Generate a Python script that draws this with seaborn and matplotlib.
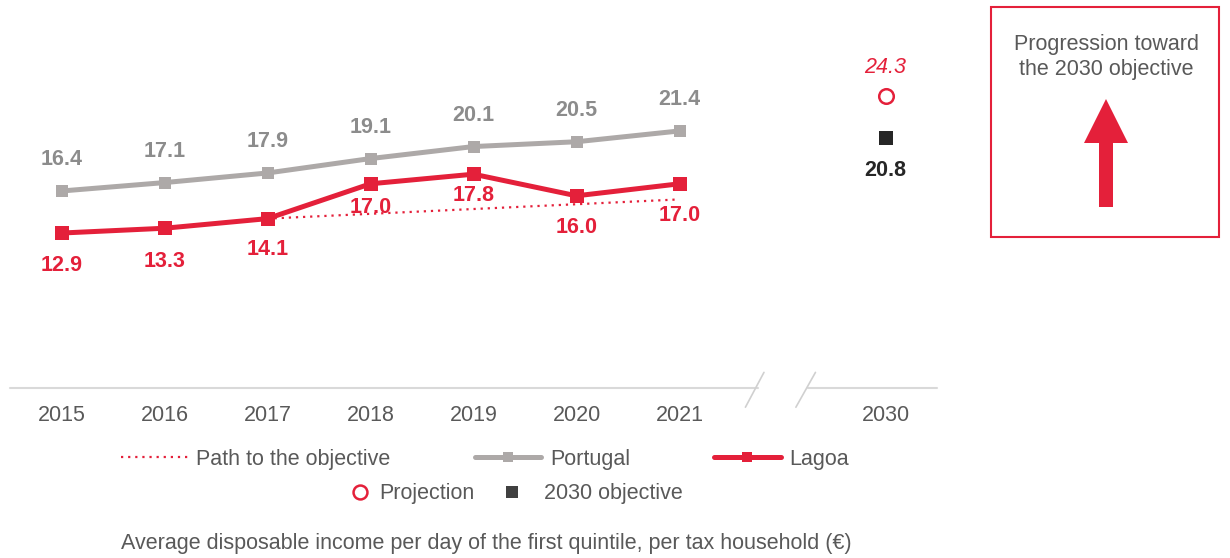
import matplotlib
matplotlib.use("Agg")
import matplotlib.pyplot as plt
import matplotlib.patches as mpatches
from matplotlib.lines import Line2D
import pandas as pd
import seaborn as sns

# data
years = ["2015", "2016", "2017", "2018", "2019", "2020", "2021"]
tick_labels = years + ["2030"]
portugal = [16.4, 17.1, 17.9, 19.1, 20.1, 20.5, 21.4]
lagoa = [12.9, 13.3, 14.1, 17.0, 17.8, 16.0, 17.0]
path_years = ["2017", "2021"]
path_values = [14.1, 15.7]
projection_2030 = 24.3
objective_2030 = 20.8

RED = "#E4203A"
GREY_LINE = "#ADA9A8"
GREY_TEXT = "#8C8C8C"
DARK = "#262626"
TEXT = "#595959"
FS = 15.5

sns.set_style("white")
plt.rcParams["font.family"] = ["Liberation Sans", "DejaVu Sans"]

# positions: 2015..2021 -> 0..6, gap, 2030 -> 8
pos = {y: i for i, y in enumerate(years)}
pos["2030"] = 8

df = pd.DataFrame({
    "x": [pos[y] for y in years] * 2,
    "value": portugal + lagoa,
    "series": ["Portugal"] * len(years) + ["Lagoa"] * len(years),
})
path_df = pd.DataFrame({"x": [pos[y] for y in path_years], "value": path_values})

fig = plt.figure(figsize=(12.3, 5.58), dpi=100)
ax = fig.add_axes([10 / 1230, 1 - 388 / 558, 927 / 1230, 388 / 558])

sns.lineplot(data=path_df, x="x", y="value", ax=ax, color=RED,
             linestyle=(0, (1, 2.2)), linewidth=1.6, zorder=2)
sns.lineplot(data=df[df.series == "Portugal"], x="x", y="value", ax=ax,
             color=GREY_LINE, linewidth=3.6, marker="s", markersize=9,
             markeredgewidth=0, zorder=3)
sns.lineplot(data=df[df.series == "Lagoa"], x="x", y="value", ax=ax,
             color=RED, linewidth=3.6, marker="s", markersize=9.5,
             markeredgewidth=0, zorder=4)
sns.scatterplot(x=[pos["2030"]], y=[projection_2030], ax=ax, marker="o", s=110,
                facecolor="white", edgecolor=RED, linewidth=1.8, zorder=5)
sns.scatterplot(x=[pos["2030"]], y=[objective_2030], ax=ax, marker="s", s=95,
                color=DARK, linewidth=0, zorder=5)

# value labels
for y, v in zip(years, portugal):
    ax.annotate(f"{v:.1f}", (pos[y], v), xytext=(0, 31), textcoords="offset pixels",
                ha="center", va="center", fontsize=FS, fontweight="bold", color=GREY_TEXT)
lagoa_off = [-32, -33, -31, -24, -21, -32, -32]
for y, v, o in zip(years, lagoa, lagoa_off):
    ax.annotate(f"{v:.1f}", (pos[y], v), xytext=(0, o), textcoords="offset pixels",
                ha="center", va="center", fontsize=FS, fontweight="bold", color=RED)
ax.annotate(f"{projection_2030:.1f}", (pos["2030"], projection_2030), xytext=(0, 29),
            textcoords="offset pixels", ha="center", va="center", fontsize=FS,
            fontstyle="italic", color=RED)
ax.annotate(f"{objective_2030:.1f}", (pos["2030"], objective_2030), xytext=(0, -32),
            textcoords="offset pixels", ha="center", va="center", fontsize=FS,
            fontweight="bold", color=DARK)

ax.set_xlim(-0.5, 8.5)
ax.set_ylim(0, 32.3)
ax.set_xticks([pos[t] for t in tick_labels])
ax.set_xticklabels(tick_labels, fontsize=FS, color=TEXT)
ax.set_yticks([])
ax.set_xlabel("")
ax.set_ylabel("")
ax.tick_params(axis="x", length=0, pad=12)
for s in ax.spines.values():
    s.set_visible(False)

# broken axis line
ax.plot([-0.5, 6.76], [0, 0], color="#D9D9D9", lw=1.5, clip_on=False, zorder=1)
ax.plot([7.25, 8.5], [0, 0], color="#D9D9D9", lw=1.5, clip_on=False, zorder=1)
ax.plot([6.64, 6.82], [-1.6, 1.3], color="#D0D0D0", lw=1.2, clip_on=False)
ax.plot([7.13, 7.32], [-1.6, 1.3], color="#D0D0D0", lw=1.2, clip_on=False)

# legends (fig.legend appends, so each one is drawn once)
row1 = [
    Line2D([], [], color=RED, linestyle=(0, (1, 2.2)), lw=1.6),
    Line2D([], [], color=GREY_LINE, lw=3.6, marker="s", markersize=7, markeredgewidth=0),
    Line2D([], [], color=RED, lw=3.6, marker="s", markersize=7, markeredgewidth=0),
]
fig.legend(row1, ["Path to the objective", "Portugal", "Lagoa"], ncol=3,
           loc="center", bbox_to_anchor=(485 / 1230, 1 - 459 / 558),
           frameon=False, fontsize=FS, handlelength=3.1, handletextpad=0.4,
           columnspacing=3.9, labelcolor=TEXT)
proj_handle = Line2D([], [], linestyle="none", marker="o", markersize=10,
                     markerfacecolor="white", markeredgecolor=RED, markeredgewidth=1.8)
obj_handle = Line2D([], [], linestyle="none", marker="s", markersize=9, color="#404040",
                    markeredgewidth=0)
fig.legend([proj_handle], ["Projection"], loc="center",
           bbox_to_anchor=(412 / 1230, 1 - 494 / 558), frameon=False, fontsize=FS,
           handlelength=1.0, handletextpad=0.38, labelcolor=TEXT)
fig.legend([obj_handle], ["2030 objective"], loc="center",
           bbox_to_anchor=(592 / 1230, 1 - 494 / 558), frameon=False, fontsize=FS,
           handlelength=1.0, handletextpad=1.03, labelcolor=TEXT)

fig.text(486 / 1230, 1 - 543 / 558,
         "Average disposable income per day of the first quintile, per tax household (€)",
         ha="center", va="center", fontsize=FS, color=TEXT)

# side box with arrow (pixel overlay)
ov = fig.add_axes([0, 0, 1, 1], zorder=-1)
ov.set_xlim(0, 1230)
ov.set_ylim(558, 0)
ov.axis("off")
ov.add_patch(mpatches.Rectangle((991, 7), 228, 230, fill=False, edgecolor=RED, lw=1.5))
ov.text(1106, 57, "Progression toward\nthe 2030 objective", ha="center", va="center",
        fontsize=FS, color=TEXT, linespacing=1.3)
ov.add_patch(mpatches.Polygon(
    [(1099, 207), (1099, 143), (1084, 143), (1106, 99), (1128, 143), (1113, 143), (1113, 207)],
    closed=True, facecolor=RED, edgecolor="none"))

fig.savefig("out.png", dpi=100)
